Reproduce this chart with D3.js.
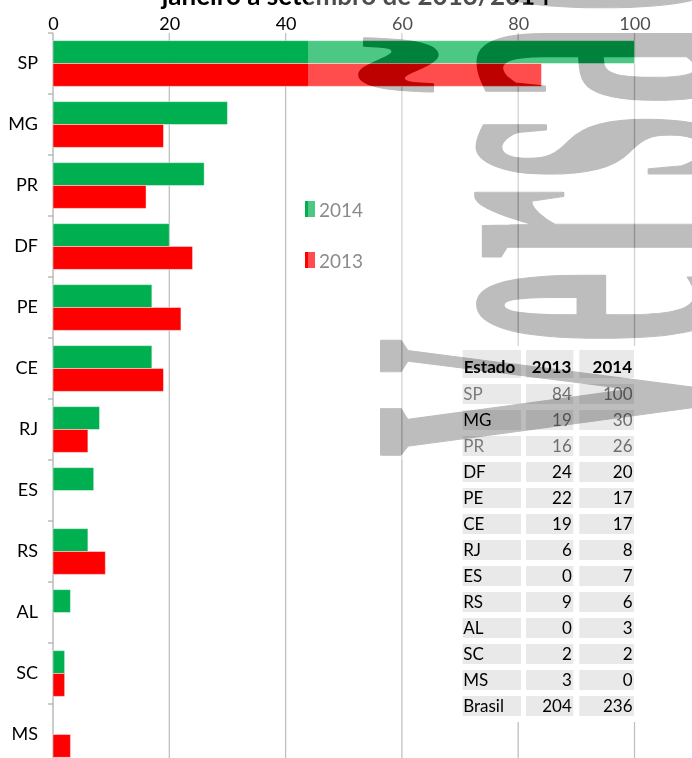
<!DOCTYPE html>
<html>
<head>
<meta charset="utf-8">
<script src="https://cdn.jsdelivr.net/npm/d3@7"></script>
<style>
  html, body { margin: 0; padding: 0; background: #fff; }
  svg { display: block; font-family: Lato, "Liberation Sans", sans-serif; }
</style>
</head>
<body>
<svg id="chart"></svg>
<script>
const titleText = "janeiro a setembro de 2013/2014"
const categories = ["SP", "MG", "PR", "DF", "PE", "CE", "RJ", "ES", "RS", "AL", "SC", "MS"]
const values2013 = [84, 19, 16, 24, 22, 19, 6, 0, 9, 0, 2, 3]
const values2014 = [100, 30, 26, 20, 17, 17, 8, 7, 6, 3, 2, 0]
const seriesNames = ["2014", "2013"]
const xTicks = [0, 20, 40, 60, 80, 100]
const tableHeader = ["Estado", "2013", "2014"]
const totalLabel = "Brasil"
const watermarkText = "Versão"

const
    width = 692,
    height = 758,
    colors = {"2014": "#00b050", "2013": "#ff0000"}

const svg = d3.select('#chart')
    .attr('width', width)
    .attr('height', height)

const x = d3.scaleLinear().domain([0, 100]).range([53, 634.5])
const y = d3.scaleBand().domain(categories).range([33, 765])
    .paddingInner(0.25).paddingOuter(0.125)
const sub = d3.scaleBand().domain(seriesNames).range([0, y.bandwidth()])

const rows = categories.map((c, i) => ({cat: c, "2013": values2013[i], "2014": values2014[i]}))

// gridlines
svg.append('g')
    .selectAll('line')
    .data(xTicks.slice(1))
    .enter()
    .append('line')
        .attr('x1', d => x(d)).attr('x2', d => x(d))
        .attr('y1', 33).attr('y2', height)
        .attr('stroke', '#c0c0c0')
        .attr('stroke-width', 1.3)

// left axis line + boundary ticks
const axisG = svg.append('g').attr('stroke', '#b0b0b0').attr('stroke-width', 1.3)
axisG.append('line')
    .attr('x1', x(0)).attr('x2', x(0))
    .attr('y1', 33).attr('y2', height)
axisG.selectAll('.btick')
    .data(categories)
    .enter()
    .append('line')
        .attr('x1', x(0) - 5).attr('x2', x(0))
        .attr('y1', d => y(d) - y.step() * y.paddingOuter())
        .attr('y2', d => y(d) - y.step() * y.paddingOuter())

// bars
const groups = svg.append('g')
    .selectAll('g')
    .data(rows)
    .enter()
    .append('g')
        .attr('transform', d => `translate(0, ${y(d.cat)})`)

groups.selectAll('rect')
    .data(d => seriesNames.map(s => ({s: s, v: d[s]})))
    .enter()
    .append('rect')
        .attr('x', x(0))
        .attr('y', d => sub(d.s))
        .attr('width', d => x(d.v) - x(0))
        .attr('height', sub.bandwidth())
        .attr('fill', d => colors[d.s])
        .attr('stroke', d => d.v > 0 ? 'rgba(255,255,255,0.45)' : 'none')
        .attr('stroke-width', 1)

// category labels
const yAxis = svg.append('g')
    .attr('transform', `translate(${x(0)},0)`)
    .call(d3.axisLeft(y).tickSize(0).tickPadding(15))
yAxis.select('.domain').remove()
yAxis.selectAll('text')
    .attr('font-size', 18)
    .attr('font-family', 'Lato, sans-serif')
    .attr('fill', '#000')

// top axis labels
const xAxis = svg.append('g')
    .attr('transform', 'translate(0,30)')
    .call(d3.axisTop(x).tickValues(xTicks).tickSize(0).tickPadding(0))
xAxis.select('.domain').remove()
xAxis.selectAll('text')
    .attr('font-size', 18)
    .attr('font-family', 'Lato, sans-serif')
    .attr('fill', '#000')

// title (cut at top, as in the source)
svg.append('text')
    .attr('x', 356)
    .attr('y', 5)
    .attr('text-anchor', 'middle')
    .attr('font-size', 26)
    .attr('font-weight', 'bold')
    .attr('fill', '#000')
    .text(titleText)

// legend
const legend = svg.append('g')
    .selectAll('g')
    .data(seriesNames)
    .enter()
    .append('g')
        .attr('transform', (d, i) => `translate(305, ${201 + i * 51})`)
legend.append('rect')
    .attr('width', 10).attr('height', 16)
    .attr('fill', d => colors[d])
legend.append('text')
    .attr('x', 14).attr('y', 15.5)
    .attr('font-size', 19)
    .attr('fill', '#595959')
    .text(d => d)

// watermark definition (reused for mask)
const wmTransform = 'translate(722, 457) rotate(-90) scale(0.316, 1)'
const wmStyle = sel => sel
    .attr('transform', wmTransform)
    .attr('font-family', '"Liberation Serif", serif')
    .attr('font-weight', 'bold')
    .attr('font-size', 520)
    .attr('letter-spacing', 30)
    .attr('stroke-width', 3)
    .attr('stroke-linejoin', 'round')
    .text(watermarkText)

const defs = svg.append('defs')
const mask = defs.append('mask').attr('id', 'wmHole')
mask.append('rect').attr('width', width).attr('height', height).attr('fill', '#fff')
mask.append('text').call(wmStyle).attr('fill', '#000').attr('stroke', '#000')

// light translucent layer
svg.append('rect')
    .attr('x', 308).attr('y', 0)
    .attr('width', width - 308).attr('height', 460)
    .attr('fill', '#fff')
    .attr('fill-opacity', 0.3)
    .attr('mask', 'url(#wmHole)')

// table
const tableRows = rows.concat([{
    cat: totalLabel,
    "2013": d3.sum(values2013),
    "2014": d3.sum(values2014)
}])
const colLeft = [462.7, 526, 579.3]
const colRight = [521, 573.3, 634]
const ty = d3.scaleBand().domain(tableRows.map(d => d.cat)).range([381, 381 + tableRows.length * 26])
    .paddingInner(0.23).paddingOuter(0.115)
const dimLabel = new Set(["SP", "PR"])
const dimValue = new Set(["SP", "MG", "PR"])

const table = svg.append('g').attr('font-size', 17)
table.append('rect')
    .attr('x', 455).attr('y', 346)
    .attr('width', 185).attr('height', 376)
    .attr('fill', '#fff')

// header
const headerTop = 350, headerH = 28
table.selectAll('.hcell')
    .data(tableHeader)
    .enter()
    .append('rect')
        .attr('x', (d, i) => colLeft[i])
        .attr('y', headerTop)
        .attr('width', (d, i) => colRight[i] - colLeft[i])
        .attr('height', headerH)
        .attr('fill', '#e9e9e9')
table.selectAll('.htext')
    .data(tableHeader)
    .enter()
    .append('text')
        .attr('x', (d, i) => i === 0 ? colLeft[i] + 1 : colRight[i] - 2)
        .attr('y', headerTop + 23)
        .attr('text-anchor', (d, i) => i === 0 ? 'start' : 'end')
        .attr('font-weight', 'bold')
        .attr('fill', '#000')
        .text(d => d)

const trow = table.selectAll('.trow')
    .data(tableRows)
    .enter()
    .append('g')
        .attr('transform', d => `translate(0, ${ty(d.cat)})`)

trow.selectAll('rect')
    .data([0, 1, 2])
    .enter()
    .append('rect')
        .attr('x', i => colLeft[i])
        .attr('width', i => colRight[i] - colLeft[i])
        .attr('height', ty.bandwidth())
        .attr('fill', '#e9e9e9')

trow.append('text')
    .attr('x', colLeft[0] + 0.5)
    .attr('y', 16.5)
    .attr('fill', d => dimLabel.has(d.cat) ? '#7a7a7a' : '#000')
    .text(d => d.cat)
trow.selectAll('.num')
    .data(d => ["2013", "2014"].map((k, j) => ({k: k, j: j + 1, v: d[k], cat: d.cat})))
    .enter()
    .append('text')
        .attr('x', d => colRight[d.j] - 1.5)
        .attr('y', 16.5)
        .attr('text-anchor', 'end')
        .attr('fill', d => dimValue.has(d.cat) ? '#6e6e6e' : '#000')
        .text(d => d.v)

// watermark
svg.append('text')
    .call(wmStyle)
    .attr('fill', '#bdbdbd')
    .attr('stroke', '#bdbdbd')
    .style('mix-blend-mode', 'multiply')
</script>
</body>
</html>
